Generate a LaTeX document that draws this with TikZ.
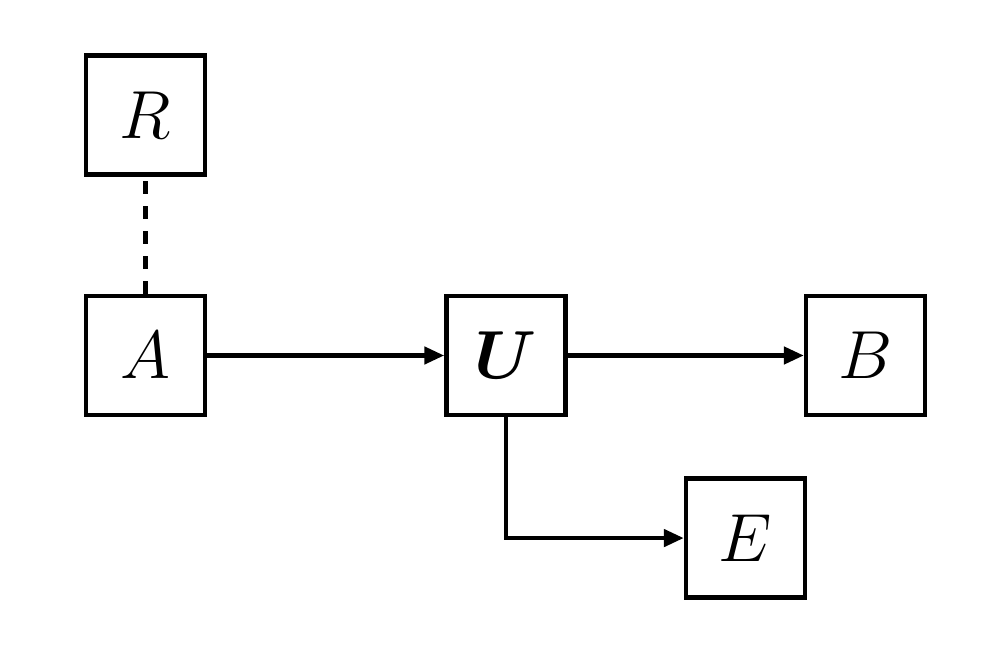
\documentclass[tikz,border=0pt]{standalone}
\usepackage{graphicx}
\usepackage{amsmath}
\usepackage{bm}
\usepackage{tikz}
\usetikzlibrary{positioning}
\usetikzlibrary{arrows.meta}

\newcommand{\blocklabel}[1]{\scalebox{1.12}{\LARGE$#1$}}

\begin{document}
\begin{tikzpicture}[
    block/.style={draw, line width=1.3pt, minimum size=1.19cm, inner sep=0pt},
    link/.style={line width=1.3pt, -{Triangle[length=2mm,width=1.7mm]}}
  ]
    \useasboundingbox (0,0) rectangle (10.04,6.58);

    \node [block] at (1.455,3.025) (A) {\blocklabel{A}};
    \node [block, above=1.17cm of A] (R) {\blocklabel{R}};
    \node [block, right=2.37cm of A] (U) {\blocklabel{\bm{U}}};
    \node [block, right=2.36cm of U] (B) {\blocklabel{B}};
    \node [block, below right=0.59cm and 1.16cm of U] (E) {\blocklabel{E}};

    \draw [line width=1.3pt, dash pattern=on 0.13cm off 0.12cm] (A) -- (R);
    \draw [link] (A) -- (U);
    \draw [link] (U) -- (B);
    \draw [link] (U.south) |- (E.west);

\end{tikzpicture}
\end{document}
